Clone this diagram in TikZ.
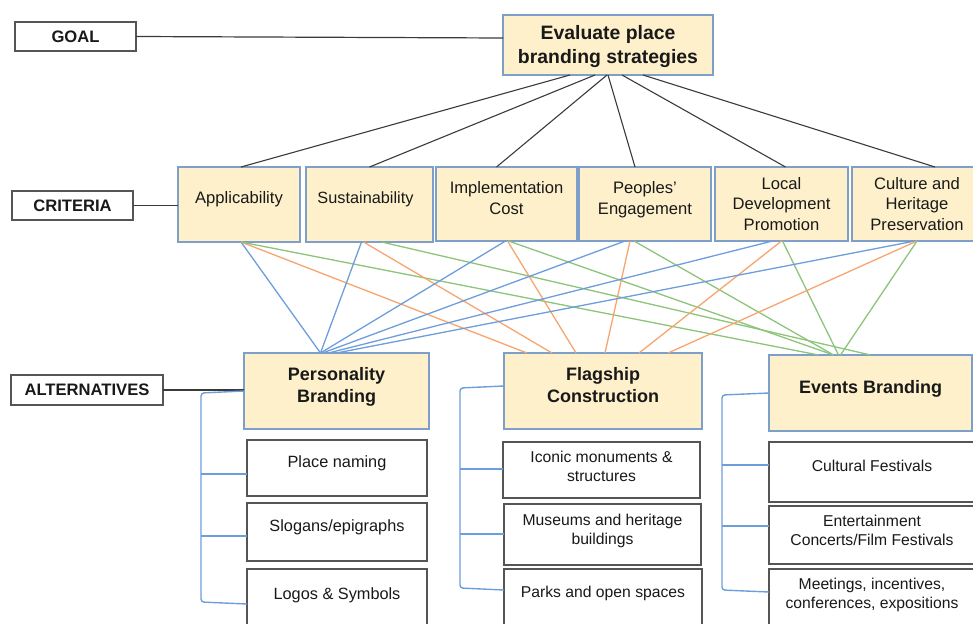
\documentclass[tikz,border=0pt]{standalone}
\usepackage{fontspec}
\setmainfont{Liberation Sans}
\definecolor{boxfill}{HTML}{FDF0CB}
\definecolor{boxedge}{HTML}{7F9FCB}
\definecolor{greyedge}{HTML}{555555}
\definecolor{lnblue}{HTML}{6D9EDB}
\definecolor{lnorange}{HTML}{F6A56F}
\definecolor{lngreen}{HTML}{8CC47A}
\definecolor{lndark}{HTML}{3A3A3A}
\tikzset{
  basebox/.style={rectangle,outer sep=0pt,inner sep=0pt,text=black!90,align=center},
  yellowbox/.style={basebox,fill=boxfill,draw=boxedge,line width=1.5pt},
  whitebox/.style={basebox,fill=white,draw=greyedge,line width=1.4pt},
  small/.style={font=\fontsize{16.6}{20.5}\selectfont},
  subp/.style={font=\fontsize{16.3}{20}\selectfont},
  subq/.style={font=\fontsize{15.7}{19.5}\selectfont},
  title/.style={font=\bfseries\fontsize{18}{22}\selectfont},
  big/.style={font=\bfseries\fontsize{19.4}{24}\selectfont},
  tag/.style={font=\bfseries\fontsize{16.6}{20}\selectfont},
  goalline/.style={draw=lndark,line width=1.1pt},
  tagline/.style={draw=lndark,line width=1.2pt},
  blueline/.style={draw=lnblue,line width=1.3pt},
  orangeline/.style={draw=lnorange,line width=1.3pt},
  greenline/.style={draw=lngreen,line width=1.3pt},
  bracket/.style={draw=lnblue,line width=1.4pt,rounded corners=3pt}
}
% name x1 y1 x2 y2 style dy lines
\newcommand{\bx}[8]{%
  \pgfmathsetmacro{\bw}{#4-#2}\pgfmathsetmacro{\bh}{#5-#3}%
  \node[#6,minimum width=\bw pt,minimum height=\bh pt] (#1) at ({(#2+#4)/2},{(#3+#5)/2})
    {\raisebox{\dimexpr #7pt-6pt\relax}[0pt][0pt]{\begin{tabular}{@{}c@{}}#8\end{tabular}}};}
\newcommand{\cl}[5]{\draw[#1line] ([xshift=#3]#2.south) -- ([xshift=#5]#4.north);}
\begin{document}
\begin{tikzpicture}[x=1pt,y=-1pt]
\useasboundingbox (0,0) rectangle (973,623);
\clip (0,0) rectangle (973,623);
% top
\bx{goalbox}{503}{15}{713}{75}{yellowbox,big}{-0.5}{Evaluate place\\branding strategies}
\bx{goaltag}{15}{22}{136}{51}{whitebox,tag}{0}{GOAL}
\bx{crittag}{12}{191}{133}{220}{whitebox,tag}{0}{CRITERIA}
\bx{alttag}{11}{375}{163}{405}{whitebox,tag}{0}{ALTERNATIVES}
% criteria
\bx{app}{178}{167}{300}{242}{yellowbox,small}{6.5}{Applicability}
\bx{sus}{306}{167}{433}{242}{yellowbox,font=\fontsize{16.3}{20.5}\selectfont}{6.5}{Sustainability\hspace{8pt}\mbox{}}
\bx{imp}{436}{167}{577}{241}{yellowbox,small}{6}{Implementation\\Cost}
\bx{peo}{579}{167}{711}{241}{yellowbox,small}{6}{Peoples'\\Engagement}
\bx{loc}{715}{167}{848}{241}{yellowbox,small}{0}{Local\\Development\\Promotion}
\bx{cul}{852}{167}{982}{241}{yellowbox,small}{0}{Culture and\\Heritage\\Preservation}
% alternatives
\bx{per}{244}{353}{429}{429}{yellowbox,title}{6}{Personality\\Branding}
\bx{fla}{504}{353}{702}{429}{yellowbox,title}{6}{Flagship\\Construction}
\bx{eve}{769}{355}{972}{431}{yellowbox,title}{6}{Events Branding}
% sub boxes
\bx{p1}{247}{440}{427}{496}{whitebox,subp}{6}{Place naming}
\bx{p2}{247}{503}{427}{561}{whitebox,subp}{6}{Slogans/epigraphs}
\bx{p3}{247}{569}{427}{632}{whitebox,subp}{7}{Logos \& Symbols}
\bx{f1}{503}{442}{700}{498}{whitebox,subq}{4.5}{Iconic monuments \&\\structures}
\bx{f2}{504}{504}{701}{565}{whitebox,subq}{6}{Museums and heritage\\buildings}
\bx{f3}{504}{569}{702}{632}{whitebox,subq}{9}{Parks and open spaces}
\bx{e1}{769}{442}{975}{502}{whitebox,subq}{7}{Cultural Festivals}
\bx{e2}{769}{506}{975}{564}{whitebox,subq}{5.5}{Entertainment\\Concerts/Film Festivals}
\bx{e3}{769}{569}{975}{632}{whitebox,subq}{8}{Meetings, incentives,\\conferences, expositions}
% tag lines
\draw[tagline] (goaltag.east) -- (goalbox.west |- 0,38);
\draw[tagline] (crittag.east) -- (crittag.east -| app.west);
\draw[tagline] (alttag.east) -- (alttag.east -| per.west);
% goal to criteria
\draw[goalline] ([xshift=-38]goalbox.south) -- ([xshift=2]app.north);
\draw[goalline] ([xshift=-13]goalbox.south) -- (sus.north);
\draw[goalline] ([xshift=-1]goalbox.south) -- ([xshift=-10]imp.north);
\draw[goalline] (goalbox.south) -- ([xshift=-10]peo.north);
\draw[goalline] ([xshift=14]goalbox.south) -- ([xshift=4]loc.north);
\draw[goalline] ([xshift=35]goalbox.south) -- ([xshift=18]cul.north);
% criteria to alternatives
\cl{blue}{app}{2}{per}{-16}
\cl{orange}{app}{2}{fla}{-76}
\cl{green}{app}{2}{eve}{-52}
\cl{blue}{sus}{-8}{per}{-16}
\cl{orange}{sus}{-6}{fla}{-51}
\cl{green}{sus}{12}{eve}{0}
\cl{blue}{imp}{-1}{per}{-16}
\cl{orange}{imp}{1}{fla}{-27}
\cl{green}{imp}{2}{eve}{-37}
\cl{blue}{peo}{-20}{per}{-14}
\cl{orange}{peo}{-15}{fla}{2}
\cl{green}{peo}{-11}{eve}{-37}
\cl{blue}{loc}{-9}{per}{-8}
\cl{orange}{loc}{0}{fla}{36}
\cl{green}{loc}{1}{eve}{-32}
\cl{blue}{cul}{-2}{per}{0}
\cl{orange}{cul}{0}{fla}{65}
\cl{green}{cul}{0}{eve}{-30}
% brackets
\coordinate (pb) at (201,470);
\coordinate (fb) at (460,470);
\coordinate (eb) at (722,470);
\draw[bracket] (per.west |- 0,391) -- (pb |- 0,393) -- (pb |- 0,602) -- (p3.west |- 0,604);
\draw[bracket] (pb |- p1.west) ++(0,6) -- ++(46,0);
\draw[bracket] (pb |- p2.west) ++(0,4) -- ++(46,0);
\draw[bracket] (fla.west |- 0,386) -- (fb |- 0,388) -- (fb |- 0,588) -- (f3.west |- 0,590);
\draw[bracket] (fb |- f1.west) ++(0,-1) -- ++(43,0);
\draw[bracket] (fb |- f2.west) ++(0,-0.5) -- ++(44,0);
\draw[bracket] (eve.west |- 0,393) -- (eb |- 0,395) -- (eb |- 0,590) -- (e3.west |- 0,592);
\draw[bracket] (eb |- e1.west) ++(0,-7) -- ++(47,0);
\draw[bracket] (eb |- e2.west) ++(0,-9) -- ++(47,0);
\end{tikzpicture}
\end{document}
